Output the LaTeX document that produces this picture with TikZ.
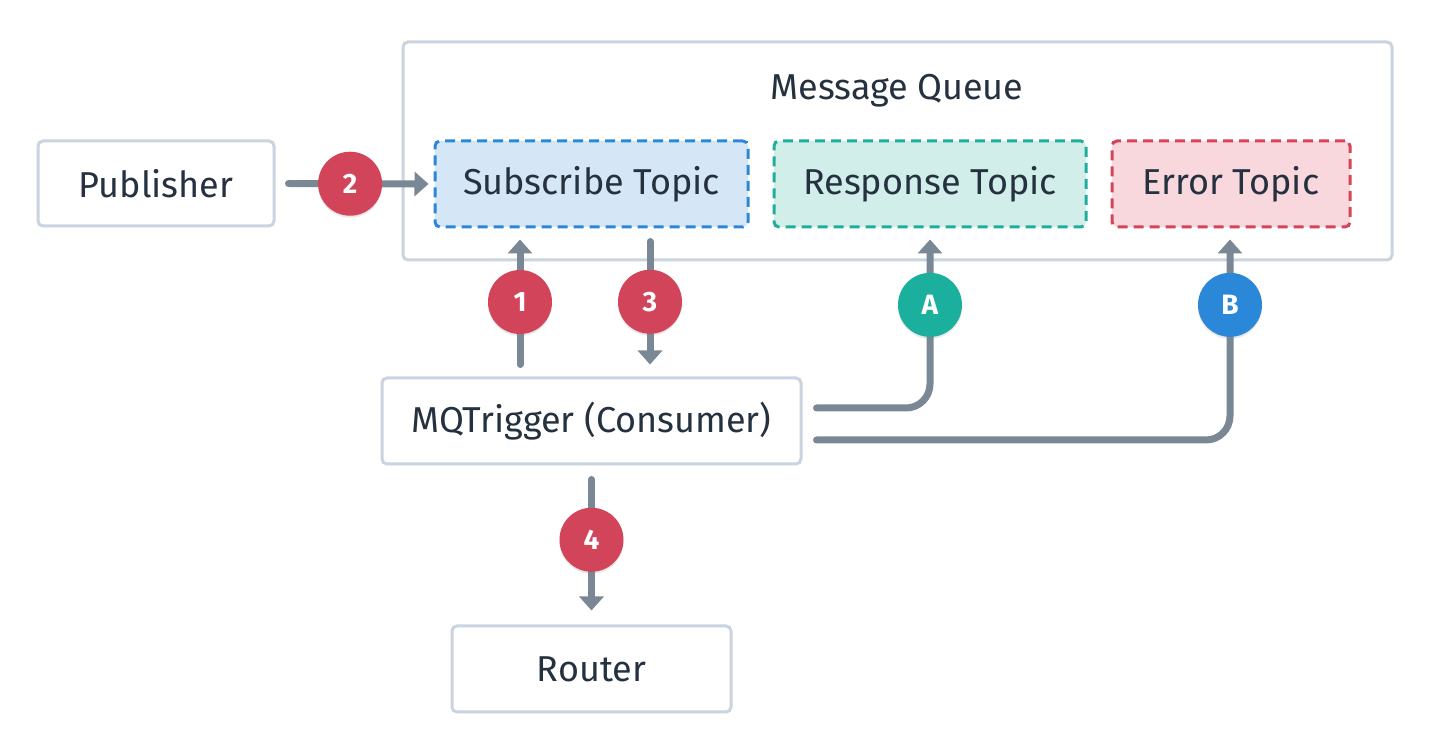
\documentclass[tikz,border=0pt]{standalone}
\usepackage{fontspec}
\setmainfont{Fira Sans}
\usetikzlibrary{calc,arrows.meta,shadows}
\definecolor{txt}{HTML}{25313F}
\definecolor{bord}{HTML}{C9D4DF}
\definecolor{conn}{HTML}{7A8896}
\definecolor{redc}{HTML}{D24459}
\definecolor{teal}{HTML}{1BAF9E}
\definecolor{bluec}{HTML}{2B88D8}
\definecolor{subfill}{HTML}{D5E6F7}
\definecolor{subline}{HTML}{2D87D9}
\definecolor{respfill}{HTML}{D1EEEA}
\definecolor{respline}{HTML}{1FAE9C}
\definecolor{errfill}{HTML}{F8D8DD}
\definecolor{errline}{HTML}{D5435A}
\tikzset{
  box/.style={draw=bord, line width=1.5pt, fill=white, rounded corners=2.5pt,
    minimum height=43pt, inner sep=0pt, text=txt, font=\fontsize{18}{20}\selectfont},
  topic/.style={line width=1.5pt, dash pattern=on 5pt off 3pt, rounded corners=2.5pt,
    minimum height=43pt, inner sep=0pt, text=txt, font=\fontsize{18}{20}\selectfont},
  conn/.style={draw=conn, line width=3.5pt, line cap=round,
    -{Triangle[width=12pt,length=7pt]}},
  badge/.style={circle, fill=#1, minimum size=32pt, inner sep=0pt, text=white,
    font=\fontsize{14}{15}\selectfont\bfseries,
    drop shadow={opacity=0.18, shadow xshift=0pt, shadow yshift=-1pt}},
  badge/.default=redc
}
\begin{document}
\begin{tikzpicture}[x=0.5pt,y=-0.5pt]
\useasboundingbox[fill=white] (0,0) rectangle (1432,732);
% message queue container
\node[box, minimum width=494.5pt, minimum height=109pt] (mq) at (897.5,151) {};
\node[text=txt, font=\fontsize{18}{20}\selectfont] (mqt) at (897,91) {Message Queue};
% topics
\node[topic, draw=subline, fill=subfill, minimum width=156.5pt] (sub) at (591.5,184) {Subscribe Topic};
\node[topic, draw=respline, fill=respfill, minimum width=156pt] (resp) at (930,184) {Response Topic};
\node[topic, draw=errline, fill=errfill, minimum width=119pt] (err) at (1231,184) {Error Topic};
% other boxes
\node[box, minimum width=118pt, minimum height=42.5pt] (pub) at (156,183.5) {Publisher};
\node[box, minimum width=209.5pt] (trig) at (591.5,421) {MQTrigger (Consumer)};
\node[box, minimum width=139.5pt] (router) at (591.5,669) {Router};
% connectors
\draw[conn] ($(pub.east)+(13,0)$) -- node[pos=0.44, badge]{2} ($(sub.west)+(-5,0)$);
\draw[conn] ($(trig.north)+(-71.5,-12)$) -- node[badge]{1} ($(sub.south)+(-71.5,11)$);
\draw[conn] ($(sub.south)+(58.5,13)$) -- node[pos=0.49, badge]{3} ($(trig.north)+(58.5,-12)$);
\draw[conn] ($(trig.south)+(0,14)$) -- node[pos=0.46, badge]{4} ($(router.north)+(0,-14)$);
\draw[conn, rounded corners=12pt] ($(trig.east)+(14,-13)$) -| ($(resp.south)+(0,11)$)
  node[pos=0.806, badge=teal]{A};
\draw[conn, rounded corners=12pt] ($(trig.east)+(14,19)$) -| ($(err.south)+(-1,11)$)
  node[pos=0.837, badge=bluec]{B};
\end{tikzpicture}
\end{document}
